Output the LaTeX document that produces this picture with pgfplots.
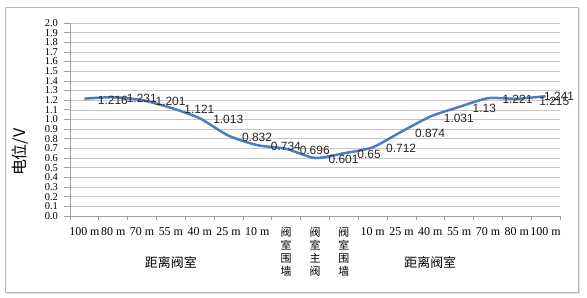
\documentclass[border=0pt]{standalone}
\usepackage{pgfplots}
\pgfplotsset{compat=1.18}
\usepackage{pgfplotstable}
\usepackage{fontspec}
\setmainfont{Liberation Serif}
\newfontfamily\cjk{Noto Sans CJK SC}
\newfontfamily\lsans{Liberation Sans}
\definecolor{lineblue}{RGB}{74,126,192}
\newcommand{\vlab}[4]{{\cjk\fontsize{11}{11}\selectfont\shortstack{#1\\#2\\#3\\#4}}}

\pgfplotstableread{
x y lab dx dy
0 1.216 1.216 9 -1.5
1 1.231 1.231 9 -1.5
2 1.201 1.201 9 -1.5
3 1.121 1.121 9 -1.5
4 1.013 1.013 9 -1.5
5 0.832 0.832 9 -1.5
6 0.734 0.734 9 -1.5
7 0.696 0.696 9 -1.5
8 0.601 0.601 9 -1.5
9 0.65 0.65 9 -1.5
10 0.712 0.712 9 -1.5
11 0.874 0.874 9 -1.5
12 1.031 1.031 9 -1.5
13 1.13 1.13 9 -1.5
14 1.221 1.221 10 -1.5
15 1.215 1.215 18 -3
16 1.241 1.241 -6 0
}\data

\begin{document}
\begin{tikzpicture}
\useasboundingbox (0,0) rectangle (587bp,298bp);
\draw[gray!55, line width=0.8bp] (5bp,6bp) rectangle (578bp,291bp);
\draw[gray!25, line width=0.8bp] (6bp,5bp) -- (579bp,5bp) -- (579bp,290bp);
\begin{axis}[
  at={(70bp,82bp)}, anchor=south west,
  scale only axis, width=490bp, height=193bp,
  xmin=-0.5, xmax=16.5, ymin=0, ymax=2,
  clip=false,
  axis x line*=bottom, axis y line*=left,
  axis line style={gray!75, line width=0.7bp},
  xtick={0,...,16},
  xticklabels={100 m,80 m,70 m,55 m,40 m,25 m,10 m,
    \vlab{阀}{室}{围}{墙},\vlab{阀}{室}{主}{阀},\vlab{阀}{室}{围}{墙},
    10 m,25 m,40 m,55 m,70 m,80 m,100 m},
  major x tick style={draw=none},
  minor xtick={-0.5,0.5,...,16.5},
  minor x tick style={gray!75, line width=0.7bp},
  minor tick length=4bp,
  ytick distance=0.1,
  y tick style={gray!75, line width=0.7bp},
  major tick length=6bp,
  tick align=outside,
  ymajorgrids,
  major grid style={gray!45, line width=0.6bp},
  yticklabel style={font=\fontsize{10.5}{10.5}\selectfont, xshift=-2.5bp, /pgf/number format/.cd, fixed, fixed zerofill, precision=1, assume math mode=true},
  xticklabel style={font=\fontsize{12}{12}\selectfont, anchor=north, yshift=-2bp},
  ylabel={\cjk 电位/V},
  ylabel style={at={(axis description cs:-0.102,0.33)}, anchor=center, font=\fontsize{16}{16}\selectfont},
]
\addplot[lineblue, line width=2.5bp, smooth, tension=0.4, no marks,
  nodes near coords, point meta=explicit symbolic,
  visualization depends on={\thisrow{dx} \as \dx},
  visualization depends on={\thisrow{dy} \as \dy},
  nodes near coords style={font=\lsans\fontsize{12}{12}\selectfont, anchor=west, xshift=\dx bp, yshift=\dy bp, text=black!85}]
  table[x=x, y=y, meta=lab]{\data};
\node[font=\cjk\fontsize{13}{13}\selectfont] at (axis cs:3,0) [yshift=-47bp] {距离阀室};
\node[font=\cjk\fontsize{13}{13}\selectfont] at (axis cs:12,0) [yshift=-47bp] {距离阀室};
\end{axis}
\end{tikzpicture}
\end{document}
